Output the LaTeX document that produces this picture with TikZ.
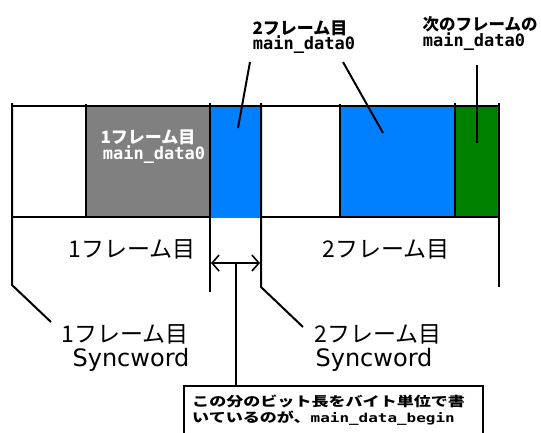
\documentclass[tikz,border=0pt]{standalone}
\usepackage{fontspec}
\usepackage{graphicx}
\setmainfont{Noto Sans CJK JP}
\newfontfamily\jp{Noto Sans CJK JP}
\newfontfamily\mono{DejaVu Sans Mono}
\newfontfamily\lat{DejaVu Sans}
\usetikzlibrary{arrows.meta}
\definecolor{graybar}{RGB}{128,128,128}
\definecolor{bluebar}{RGB}{0,128,255}
\definecolor{greenbar}{RGB}{0,128,0}
\begin{document}
\begin{tikzpicture}[x=1pt,y=-1pt,
  ln/.style={line width=2pt},
  big/.style={inner sep=0pt,font=\jp\fontsize{23}{23}\selectfont},
  biglat/.style={inner sep=0pt,font=\lat\fontsize{24}{24}\selectfont},
  small/.style={inner sep=0pt,font=\jp\bfseries\fontsize{17}{17}\selectfont},
  smallmono/.style={inner sep=0pt,font=\mono\bfseries\fontsize{17}{17}\selectfont},
  boxtxt/.style={inner sep=0pt,anchor=west,font=\jp\bfseries\fontsize{15.5}{15.5}\selectfont},
  mybarb/.tip={Straight Barb[length=7pt,width=16pt,line width=1.6pt]}]
\useasboundingbox (0,0) rectangle (541,432);
\fill[white] (0,0) rectangle (541,432);
% bar fills
\fill[graybar] (86,106) rectangle (210,217);
\fill[bluebar] (210,106) rectangle (261,218);
\fill[bluebar] (340,106) rectangle (455,217);
\fill[greenbar] (455,106) rectangle (499,217);
% bar outlines
\draw[ln] (12,106) -- (499,106);
\draw[ln] (12,217) -- (210,217);
\draw[ln] (261,217) -- (499,217);
\draw[ln] (86,104) -- (86,217);
\draw[ln] (340,104) -- (340,217);
\draw[ln] (455,103) -- (455,217);
\draw[ln] (210,103) -- (210,292);
\draw[ln] (499,103) -- (499,287);

% texts
\node[small,text=white] (g1) at (148,137) {1フレーム目};
\node[smallmono,text=white] (g2) at (154,155) {main\_data0};
\node[small] (t2a) at (300,28) {2フレーム目};
\node[smallmono] (t2b) at (304,45) {main\_data0};
\node[small,font=\jp\bfseries\fontsize{16.5}{16.5}\selectfont] (t3a) at (480,24) {次のフレームの};
\node[smallmono] (t3b) at (474,42) {main\_data0};
\node[big] (f1) at (132,249) {1フレーム目};
\node[big] (f2) at (386,249) {2フレーム目};
\node[big] (s1a) at (125,334) {1フレーム目};
\node[biglat] (s1b) at (131,360) {Syncword};
\node[big] (s2a) at (378,334) {2フレーム目};
\node[biglat] (s2b) at (374,360) {Syncword};
\node[boxtxt] (b1) at (192,401) {\scalebox{1.1}[0.85]{この分のビット長をバイト単位で書}};
\node[boxtxt] (b2) at (192,418) {\scalebox{1.1}[0.85]{いているのが、{\mono\bfseries\fontsize{14.5}{14.5}\selectfont main\_data\_begin}}};

% connectors
\coordinate (c1s) at (12,103);
\coordinate (c1k) at (12,285);
\coordinate (c1e) at (51,322);
\draw[ln] (c1s) -- (c1k) -- (c1e);
\coordinate (c2s) at (261,103);
\coordinate (c2k) at (261,287);
\coordinate (c2e) at (303,327);
\draw[ln] (c2s) -- (c2k) -- (c2e);
\coordinate (l1a) at (250,62);
\coordinate (l1b) at (238,128);
\draw[ln] (l1a) -- (l1b);
\coordinate (l2a) at (343,62);
\coordinate (l2b) at (383,133);
\draw[ln] (l2a) -- (l2b);
\coordinate (l3a) at (477,65);
\coordinate (l3b) at (477,143);
\draw[ln] (l3a) -- (l3b);
\coordinate (al) at (211,263);
\coordinate (ar) at (260,263);
\draw[ln,mybarb-mybarb] (al) -- (ar);
\coordinate (am) at (236,263);
\coordinate (bt) at (236,386);
\draw[ln] (am) -- (bt);
% bottom box (continues past the lower edge)
\draw[ln] (184,433) -- (184,386) -- (483,386) -- (483,433);
\end{tikzpicture}
\end{document}
